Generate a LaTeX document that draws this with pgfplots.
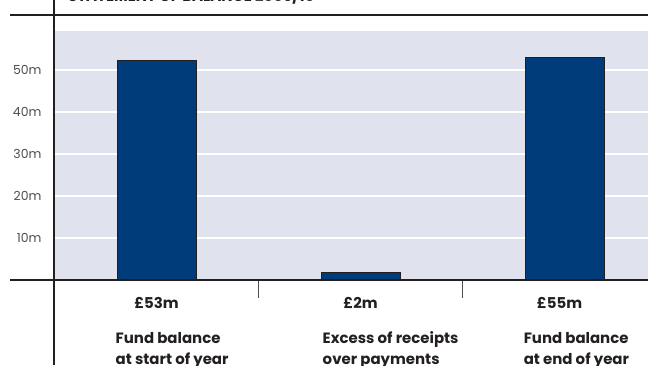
\documentclass[border=0pt]{standalone}
\usepackage{pgfplots}
\pgfplotsset{compat=1.18}
\usepackage{fontspec}
\setmainfont{Poppins}
\definecolor{bgc}{HTML}{E0E2EE}
\definecolor{barc}{HTML}{003B7A}
\definecolor{linec}{HTML}{231F20}
\begin{document}
\begin{tikzpicture}[x=1bp,y=1bp]
\useasboundingbox (0,0) rectangle (648,365);
\clip (0,0) rectangle (648,365);
\node[anchor=base west, font=\bfseries\fontsize{15}{18}\selectfont, text=linec, inner sep=0] at (68,363.5) {STATEMENT OF BALANCE 2009/10};
\begin{axis}[
  at={(55bp,85bp)}, anchor=south west,
  scale only axis, width=593bp, height=249bp,
  xmin=-0.4975, xmax=2.409, ymin=0, ymax=59.3,
  axis lines=left, axis line style={draw=none},
  major tick length=0pt,
  xtick=\empty,
  ytick={10,20,30,40,50},
  yticklabels={10m,20m,30m,40m,50m},
  yticklabel style={anchor=east, xshift=-10bp, font=\fontsize{12.5}{15}\selectfont, text=linec!80},
  ymajorgrids, grid style={white, line width=1.2bp},
  axis background/.style={fill=bgc},
  ybar, bar width=79bp, bar shift=0pt,
  clip=false,
]
\addplot[fill=barc, draw=linec, line width=0.8bp] coordinates {(0,52.3) (1,1.9) (2,53.0)};
\draw[linec!80, line width=0.8bp] (axis cs:0.5,0) -- ++(0pt,-18bp);
\draw[linec!80, line width=0.8bp] (axis cs:1.5,0) -- ++(0pt,-18bp);
\node[anchor=base, yshift=-28bp, font=\bfseries\fontsize{15}{17}\selectfont, text=linec] at (axis cs:0,0) {£53m};
\node[anchor=base, yshift=-28bp, font=\bfseries\fontsize{15}{17}\selectfont, text=linec] at (axis cs:1,0) {£2m};
\node[anchor=base, yshift=-28bp, xshift=-5bp, font=\bfseries\fontsize{15}{17}\selectfont, text=linec] at (axis cs:2,0) {£55m};
\node[anchor=base west, inner sep=0, xshift=-41bp, yshift=-63bp, font=\bfseries\fontsize{15}{18}\selectfont, text=linec] at (axis cs:0,0) {Fund balance};
\node[anchor=base west, inner sep=0, xshift=-41bp, yshift=-84bp, font=\bfseries\fontsize{15}{18}\selectfont, text=linec] at (axis cs:0,0) {at start of year};
\node[anchor=base west, inner sep=0, xshift=-38bp, yshift=-63bp, font=\bfseries\fontsize{15}{18}\selectfont, text=linec] at (axis cs:1,0) {Excess of receipts};
\node[anchor=base west, inner sep=0, xshift=-38bp, yshift=-84bp, font=\bfseries\fontsize{15}{18}\selectfont, text=linec] at (axis cs:1,0) {over payments};
\node[anchor=base west, inner sep=0, xshift=-41bp, yshift=-63bp, font=\bfseries\fontsize{15}{18}\selectfont, text=linec] at (axis cs:2,0) {Fund balance};
\node[anchor=base west, inner sep=0, xshift=-41bp, yshift=-84bp, font=\bfseries\fontsize{15}{18}\selectfont, text=linec] at (axis cs:2,0) {at end of year};
\end{axis}
\draw[linec, line width=2bp] (53.5,0) -- (53.5,365);
\draw[linec, line width=2bp] (10,350) -- (648,350);
\draw[linec, line width=2bp] (10,85) -- (648,85);
\end{tikzpicture}
\end{document}
